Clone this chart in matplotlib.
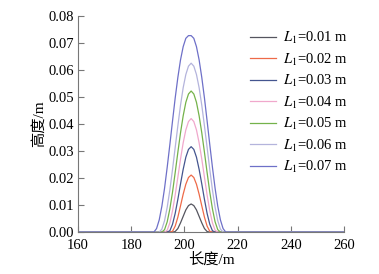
import matplotlib
matplotlib.use("Agg")
import matplotlib.pyplot as plt

# Datos (longitud en m, altura en m)
x_grid = [160, 187.5, 188.5, 189.5, 190.5, 191.5, 192.5, 193.5, 194.5, 195.5, 196.5,
          197.5, 198.5, 199.5, 200.5, 201.5, 202.5, 203.5, 204.5, 205.5, 206.5,
          207.5, 208.5, 209.5, 210.5, 211.5, 212.5, 213.5, 214.5, 215.5, 260]

h_001 = [0, 0, 0, 0, 0, 0, 0, 0, 0, 0, .0002, .0013, .0034, .0058, .0082, .0098,
         .0104, .0098, .0082, .0058, .0034, .0013, .0002, 0, 0, 0, 0, 0, 0, 0, 0]
h_002 = [0, 0, 0, 0, 0, 0, 0, 0, 0, .0003, .0022, .0055, .0097, .0140, .0177, .0202,
         .0211, .0202, .0177, .0140, .0097, .0055, .0022, .0003, 0, 0, 0, 0, 0, 0, 0]
h_003 = [0, 0, 0, 0, 0, 0, 0, 0, .0005, .0029, .0069, .0121, .0178, .0232, .0277, .0306,
         .0316, .0306, .0277, .0232, .0178, .0121, .0069, .0029, .0005, 0, 0, 0, 0, 0, 0]
h_004 = [0, 0, 0, 0, 0, 0, 0, .0007, .0034, .0079, .0137, .0203, .0270, .0330, .0378, .0409,
         .0420, .0409, .0378, .0330, .0270, .0203, .0137, .0079, .0034, .0007, 0, 0, 0, 0, 0]
h_005 = [0, 0, 0, 0, 0, 0, .0009, .0038, .0086, .0148, .0220, .0295, .0367, .0430, .0480, .0511,
         .0522, .0511, .0480, .0430, .0367, .0295, .0220, .0148, .0086, .0038, .0009, 0, 0, 0, 0]
h_006 = [0, 0, 0, 0, 0, .0011, .0042, .0092, .0156, .0232, .0313, .0393, .0469, .0534, .0583, .0614,
         .0625, .0614, .0583, .0534, .0469, .0393, .0313, .0232, .0156, .0092, .0042, .0011, 0, 0, 0]
h_007 = [0, 0, 0, .0013, .0045, .0096, .0162, .0240, .0324, .0411, .0496, .0572, .0637, .0686, .0717, .0727,
         .0727, .0717, .0686, .0637, .0572, .0496, .0411, .0324, .0240, .0162, .0096, .0045, .0013, 0, 0]

alturas = [h_001, h_002, h_003, h_004, h_005, h_006, h_007]
etiquetas = ["0.01", "0.02", "0.03", "0.04", "0.05", "0.06", "0.07"]
colores = ["#55555f", "#ee6a48", "#44558f", "#f0a8cc", "#74b24a", "#b4b4dc", "#6e70c8"]

plt.rcParams["mathtext.fontset"] = "stix"
fuente = ["Liberation Serif", "Noto Sans CJK SC"]

fig = plt.figure(figsize=(3.79, 2.74), dpi=100)
ax = fig.add_axes([0.206, 0.153, 0.702, 0.789])

for h, lab, c in zip(alturas, etiquetas, colores):
    ax.plot(x_grid, h, color=c, linewidth=0.9, label="$L_1$=" + lab + " m")

ax.set_xlim(160, 260)
ax.set_ylim(0, 0.08)
ax.set_xticks([160, 180, 200, 220, 240, 260])
ax.set_yticks([0, 0.01, 0.02, 0.03, 0.04, 0.05, 0.06, 0.07, 0.08])
ax.set_yticklabels([f"{v:.2f}" for v in ax.get_yticks()])
for s in ["top", "right"]:
    ax.spines[s].set_visible(False)
for s in ["left", "bottom"]:
    ax.spines[s].set_color("#777777")
    ax.spines[s].set_linewidth(0.8)
ax.tick_params(direction="in", length=4, width=0.8, color="#777777",
               labelsize=10.5)
ax.tick_params(axis="y", pad=3)
ax.tick_params(axis="x", pad=5)
for t in ax.get_xticklabels() + ax.get_yticklabels():
    t.set_family(fuente)

ax.set_xlabel("长度/m", family=fuente, fontsize=11, labelpad=0)
ax.set_ylabel("高度/m", family=fuente, fontsize=11, labelpad=2)

leg = ax.legend(loc="upper left", bbox_to_anchor=(0.595, 0.995), frameon=False,
                prop={"family": fuente, "size": 10.5}, handlelength=1.8,
                labelspacing=0.37, handletextpad=0.5)

fig.savefig("out.png", dpi=100)
